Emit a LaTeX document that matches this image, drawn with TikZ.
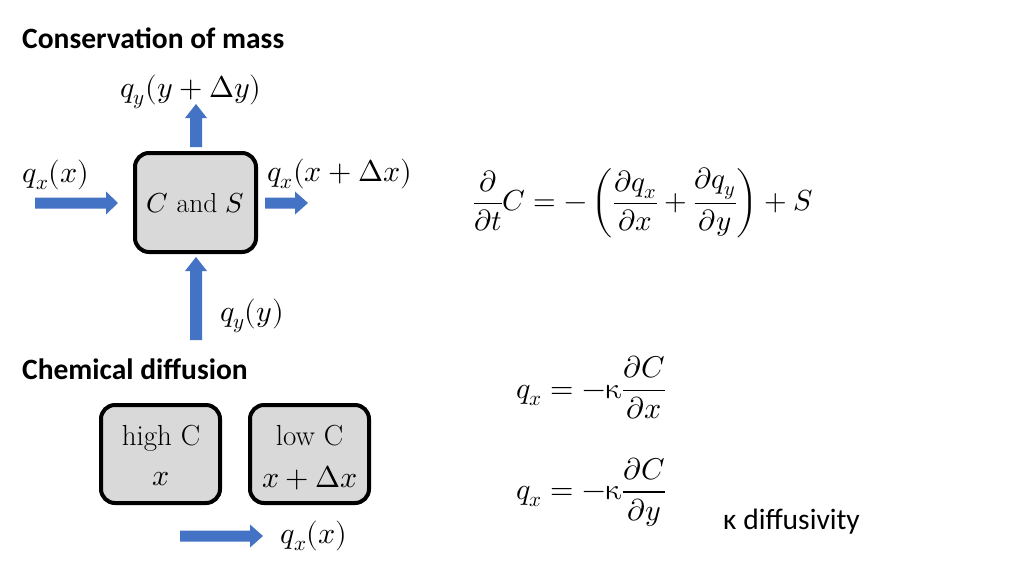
\documentclass[tikz,border=0pt]{standalone}
\usepackage{amsmath}
\usepackage{fontspec}
\usepackage{unicode-math}
\setmathfont{Latin Modern Math}
\newfontfamily\headfont{Carlito}
\usetikzlibrary{positioning}
\definecolor{arrowblue}{HTML}{4472C4}
\definecolor{boxgray}{HTML}{D9D9D9}
\newcommand{\kap}{\upkappa}
\newcommand{\harrow}[4]{% x1, xtip, y, headlen
  \fill[arrowblue] (#1,#3-5.5) -- (#2-#4,#3-5.5) -- (#2-#4,#3-11.5) -- (#2,#3) -- (#2-#4,#3+11.5) -- (#2-#4,#3+5.5) -- (#1,#3+5.5) -- cycle;}
\newcommand{\varrow}[3]{% x, ybottom, ytip
  \fill[arrowblue] (#1-6,#2) -- (#1-6,#3+14) -- (#1-11,#3+14) -- (#1,#3) -- (#1+11,#3+14) -- (#1+6,#3+14) -- (#1+6,#2) -- cycle;}
\tikzset{
  cell/.style={draw=black, line width=4pt, fill=boxgray, rounded corners=14pt, inner sep=0pt},
  head/.style={font=\headfont\bfseries\fontsize{29.5}{34}\selectfont, anchor=base west, inner sep=0pt},
  mt/.style={font=\fontsize{30}{34}\selectfont, inner sep=0pt},
  txt/.style={font=\fontsize{29}{34}\selectfont, inner sep=0pt},
  eqs/.style={font=\fontsize{30}{35}\selectfont, inner sep=0pt},
}
\begin{document}
\begin{tikzpicture}[x=1pt,y=-1pt]
\useasboundingbox[fill=white] (0,0) rectangle (1024,576);
% headings
\node[head] (h1) at (22,48) {Conservation of mass};
\node[head] (h2) at (22,379) {Chemical diffusion};
% main cell
\draw[cell] (135,153) rectangle (256,252);
\node[font=\fontsize{27.5}{32}\selectfont, inner sep=0pt] (cs) at (195.5,203) {$C$ and $S$};
% arrows
\harrow{35}{118}{203}{12}
\harrow{265}{308}{203}{13}
\varrow{196}{147}{104}
\varrow{196}{340}{257}
% labels
\node[mt] (lqyt) at (191,92) {$q_y(y+\Delta y)$};
\node[mt] (lqxl) at (56,175) {$q_x(x)$};
\node[mt] (lqxr) at (340,174) {$q_x(x+\Delta x)$};
\node[mt] (lqyb) at (252,316) {$q_y(y)$};
% balance equation
\node[eqs, font=\fontsize{29}{34}\selectfont] (eq1) at (643,203) {$\dfrac{\partial}{\partial t}C=-\left(\dfrac{\partial q_x}{\partial x}+\dfrac{\partial q_y}{\partial y}\right)+S$};
% diffusion cells
\draw[cell] (101,405) rectangle (220,503);
\draw[cell] (250,405) rectangle (369,503);
\node[txt] (hc) at (161,438) {high C};
\node[mt] (hx) at (161,479) {$x$};
\node[txt] (lc) at (309.5,436) {low C};
\node[mt] (lx) at (310,478) {$x+\Delta x$};
\harrow{180}{263}{536}{13}
\node[mt] (lqd) at (314,536) {$q_x(x)$};
% flux laws
\node[eqs] (eq2) at (591,388) {$q_x=-\kap\dfrac{\partial C}{\partial x}$};
\node[eqs] (eq3) at (591,492) {$q_x=-\kap\dfrac{\partial C}{\partial y}$};
\node[font=\headfont\fontsize{29.5}{34}\selectfont, anchor=base west, inner sep=0pt] (kd) at (723,529) {κ diffusivity};
\end{tikzpicture}
\end{document}
